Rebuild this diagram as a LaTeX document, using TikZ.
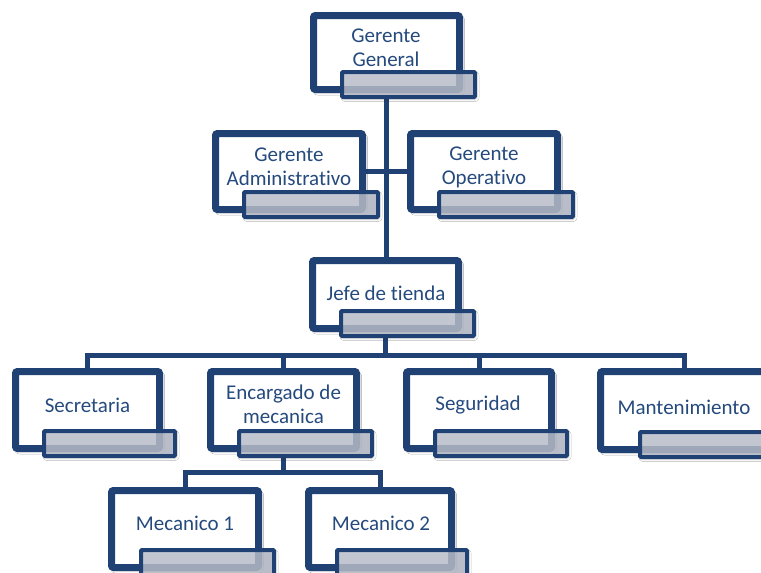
\documentclass[tikz,border=0pt]{standalone}
\usepackage{fontspec}
\setmainfont{Carlito}[Ligatures={NoCommon}]
\usetikzlibrary{shadows.blur}
\definecolor{bordercol}{HTML}{1F4173}
\definecolor{textcol}{HTML}{254A7D}
\definecolor{barfill}{HTML}{C0C5D1}
\definecolor{bardark}{HTML}{9FA6B5}
\pgfdeclarelayer{bg}
\pgfsetlayers{bg,main}
\tikzset{
  orgbox/.style={draw=bordercol, line width=7pt, fill=white, rounded corners=2pt,
    inner sep=0pt, outer sep=0pt,
    blur shadow={shadow xshift=2pt, shadow yshift=-2.5pt, shadow blur radius=3pt, shadow opacity=30}},
  orgbar/.style={draw=bordercol, line width=4pt, fill=barfill, fill opacity=0.8, draw opacity=1,
    rounded corners=1pt, inner sep=0pt, outer sep=0pt,
    path picture={
      \fill[bardark, opacity=0.25] ([xshift=-13pt]path picture bounding box.north east) rectangle (path picture bounding box.south east);
      \fill[bardark, opacity=0.2] ([yshift=5pt]path picture bounding box.south west) rectangle ([xshift=-13pt]path picture bounding box.south east);
    },
    blur shadow={shadow xshift=1.5pt, shadow yshift=-2pt, shadow blur radius=2.5pt, shadow opacity=25}},
  orgtext/.style={text=textcol, align=center, inner sep=0pt, font=\fontsize{21}{24}\selectfont},
  link/.style={draw=bordercol, line width=5pt}
}
% name, left, top, right, bottom, text x, text y, text, bar left
\newcommand\orgunit[9]{%
  \node[orgbox, minimum width={#4-#2-7}, minimum height={#5-#3-7}, anchor=north west] (#1) at ({#2+3.5},{#3+3.5}) {};
  \node[orgbar, minimum width={#4+10-#9}, minimum height=25, anchor=north west] (#1bar) at ({#9+2},{#5-21}) {};
  \node[orgtext] (#1txt) at (#6,#7) {#8};
}
\begin{document}
\begin{tikzpicture}[x=1pt,y=-1pt]
\useasboundingbox (0,0) rectangle (761,573);
\clip (0,0) rectangle (761,573);

\orgunit{gg}{310}{12}{463}{93}{386}{48}{Gerente\\General}{340}
\orgunit{ga}{212}{130}{366}{213}{289}{167}{Gerente\\Administrativo}{242}
\orgunit{go}{407}{130}{561}{213}{484}{167}{Gerente\\Operativo}{437}
\orgunit{jt}{309}{257}{462}{332}{386}{293}{Jefe de tienda}{339}
\orgunit{sec}{12}{368}{163}{452}{87.5}{405}{Secretaria}{42}
\orgunit{enc}{207}{368}{360}{452}{283.5}{404}{Encargado de\\mecanica}{237}
\orgunit{seg}{403}{368}{555}{452}{478}{405}{Seguridad}{433}
\orgunit{mant}{597}{368}{771}{453}{684}{407}{Mantenimiento}{638}
\orgunit{mA}{108}{487}{262}{571}{185}{523}{Mecanico 1}{139}
\orgunit{mB}{305}{487}{455}{571}{381}{523}{Mecanico 2}{335}

\coordinate (bus) at (386,355);
\coordinate (mbus) at (283.5,472);

\begin{pgfonlayer}{bg}
  \fill[white] (0,0) rectangle (761,573);
  \draw[link] (gg.center |- ggbar.south) -- (gg.center |- jt.north);
  \draw[link] (ga.east) -- (go.west);
  \draw[link] (jt.center |- jtbar.south) -- (jt.center |- bus);
  \draw[link] (sec.north) -- (sec.north |- bus) -- (mant.north |- bus) -- (mant.north);
  \draw[link] (enc.north) -- (enc.north |- bus);
  \draw[link] (seg.north) -- (seg.north |- bus);
  \draw[link] (enc.center |- encbar.south) -- (enc.center |- mbus);
  \draw[link] (mA.north) -- (mA.north |- mbus) -- (mB.north |- mbus) -- (mB.north);
\end{pgfonlayer}
\end{tikzpicture}
\end{document}
